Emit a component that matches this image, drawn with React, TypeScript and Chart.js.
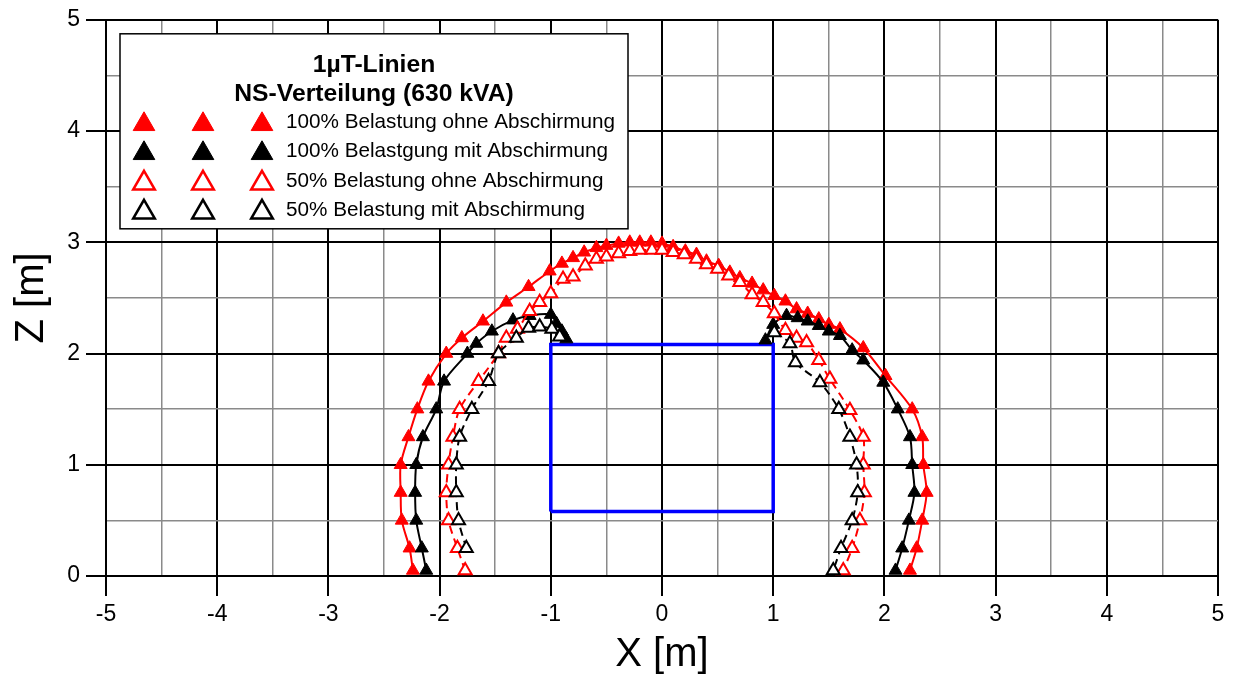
import React, { useEffect, useRef } from "react";
import { Chart, registerables } from "chart.js";

Chart.register(...registerables);

type P = [number, number];

// ---------- data ----------
const xRange: P = [-5, 5];
const zRange: P = [0, 5];
const xTitle = "X [m]";
const zTitle = "Z [m]";

const legendTitle = ["1µT-Linien", "NS-Verteilung (630 kVA)"];
const seriesLabels = [
  "100% Belastung ohne Abschirmung",
  "100% Belastgung mit Abschirmung",
  "50% Belastung ohne Abschirmung",
  "50% Belastung mit Abschirmung",
];

// 100% Belastung ohne Abschirmung (red, filled)
const ohne100: P[] = [
  [-2.24, 0.05], [-2.27, 0.25], [-2.34, 0.5], [-2.35, 0.75], [-2.35, 1.0], [-2.28, 1.25],
  [-2.2, 1.5], [-2.1, 1.75], [-1.94, 2.0], [-1.8, 2.14], [-1.61, 2.29], [-1.4, 2.46],
  [-1.2, 2.6], [-1.01, 2.74], [-0.9, 2.81], [-0.8, 2.86], [-0.7, 2.91], [-0.59, 2.95],
  [-0.5, 2.97], [-0.39, 2.99], [-0.29, 3.0], [-0.2, 3.0], [-0.1, 3.0], [0.0, 2.99],
  [0.1, 2.96], [0.21, 2.92], [0.31, 2.89], [0.4, 2.83], [0.51, 2.79], [0.61, 2.73],
  [0.7, 2.68], [0.81, 2.63], [0.91, 2.57], [1.01, 2.52], [1.11, 2.47], [1.21, 2.4],
  [1.31, 2.36], [1.41, 2.31], [1.5, 2.26], [1.6, 2.22], [1.81, 2.05], [2.01, 1.8],
  [2.25, 1.5], [2.34, 1.25], [2.35, 1.0], [2.38, 0.75], [2.34, 0.5], [2.29, 0.25], [2.23, 0.05],
];

// 100% Belastung mit Abschirmung (black, filled) – left and right branch
const mit100Left: P[] = [
  [-2.12, 0.05], [-2.16, 0.25], [-2.21, 0.5], [-2.22, 0.75], [-2.21, 1.0], [-2.15, 1.25],
  [-2.03, 1.5], [-1.96, 1.75], [-1.75, 2.0], [-1.67, 2.09], [-1.53, 2.2], [-1.34, 2.3],
  [-1.19, 2.34], [-1.0, 2.35], [-0.95, 2.27], [-0.9, 2.2], [-0.86, 2.13],
];
const mit100Right: P[] = [
  [0.93, 2.12], [1.0, 2.26], [1.12, 2.34], [1.22, 2.32], [1.31, 2.29], [1.41, 2.25],
  [1.5, 2.2], [1.6, 2.16], [1.71, 2.03], [1.81, 1.94], [1.99, 1.74], [2.12, 1.5],
  [2.23, 1.25], [2.25, 1.0], [2.27, 0.75], [2.22, 0.5], [2.16, 0.25], [2.1, 0.05],
];

// 50% Belastung ohne Abschirmung (red, open)
const ohne50: P[] = [
  [-1.77, 0.05], [-1.84, 0.25], [-1.92, 0.5], [-1.94, 0.75], [-1.92, 1.0], [-1.88, 1.25],
  [-1.82, 1.5], [-1.65, 1.75], [-1.47, 2.0], [-1.4, 2.14], [-1.3, 2.22], [-1.19, 2.38],
  [-1.1, 2.46], [-1.0, 2.54], [-0.89, 2.67], [-0.8, 2.69], [-0.69, 2.79], [-0.59, 2.85],
  [-0.5, 2.87], [-0.39, 2.9], [-0.29, 2.92], [-0.2, 2.93], [-0.09, 2.93], [0.0, 2.93],
  [0.1, 2.91], [0.2, 2.89], [0.31, 2.85], [0.4, 2.8], [0.5, 2.76], [0.6, 2.7],
  [0.7, 2.64], [0.81, 2.53], [0.91, 2.46], [1.01, 2.36], [1.11, 2.21], [1.21, 2.14],
  [1.3, 2.1], [1.41, 1.94], [1.51, 1.77], [1.69, 1.49], [1.81, 1.25], [1.81, 1.0],
  [1.82, 0.75], [1.78, 0.5], [1.71, 0.25], [1.63, 0.05],
];

// 50% Belastung mit Abschirmung (black, open) – left and right branch
const mit50Left: P[] = [
  [-1.76, 0.25], [-1.83, 0.5], [-1.85, 0.75], [-1.85, 1.0], [-1.82, 1.25], [-1.71, 1.5],
  [-1.56, 1.75], [-1.47, 2.0], [-1.31, 2.14], [-1.2, 2.23], [-1.1, 2.24], [-0.99, 2.22], [-0.92, 2.15],
];
const mit50Right: P[] = [
  [1.01, 2.19], [1.15, 2.09], [1.2, 1.92], [1.42, 1.74], [1.59, 1.5], [1.69, 1.25],
  [1.75, 1.0], [1.76, 0.75], [1.71, 0.5], [1.61, 0.25], [1.54, 0.05],
];

// Station outline (blue rectangle)
const stationX = [-1, 1, 1, -1, -1];
const stationZ = [0.58, 0.58, 2.08, 2.08, 0.58];

// ---------- styling ----------
const FONT = '"Liberation Sans", Arial, Helvetica, sans-serif';
const RED = "#ff0000";
const BLACK = "#000000";
const BLUE = "#0000ff";

const toXY = (pts: P[]) => pts.map(([x, y]) => ({ x, y }));
const isMajor = (v: number) => Math.abs(v - Math.round(v)) < 1e-6;

type SeriesStyle = { color: string; filled: boolean; dashed: boolean };
const styles: SeriesStyle[] = [
  { color: RED, filled: true, dashed: false },
  { color: BLACK, filled: true, dashed: false },
  { color: RED, filled: false, dashed: true },
  { color: BLACK, filled: false, dashed: true },
];

function curve(pts: P[], s: SeriesStyle, label: string) {
  return {
    label,
    data: toXY(pts),
    showLine: true,
    tension: 0.3,
    borderColor: s.color,
    borderWidth: 2,
    borderDash: s.dashed ? [8, 5] : [],
    pointStyle: "triangle",
    pointRadius: 7.5,
    pointBorderWidth: s.filled ? 1 : 2,
    pointBorderColor: s.color,
    pointBackgroundColor: s.filled ? s.color : "#ffffff",
  };
}

function drawTriangle(ctx: CanvasRenderingContext2D, cx: number, cy: number, r: number, s: SeriesStyle) {
  const sx = r * Math.sin((2 * Math.PI) / 3);
  ctx.beginPath();
  ctx.moveTo(cx, cy - r);
  ctx.lineTo(cx + sx, cy + r / 2);
  ctx.lineTo(cx - sx, cy + r / 2);
  ctx.closePath();
  ctx.lineWidth = s.filled ? 1 : 2.5;
  ctx.strokeStyle = s.color;
  ctx.fillStyle = s.filled ? s.color : "#ffffff";
  ctx.fill();
  ctx.stroke();
}

const legendPlugin = {
  id: "gridLegend",
  afterDraw(chart: any) {
    const ctx: CanvasRenderingContext2D = chart.ctx;
    const { left, top } = chart.chartArea;
    const bx = left + 14;
    const by = top + 14;
    const bw = 508;
    const bh = 195;
    ctx.save();
    ctx.fillStyle = "#ffffff";
    ctx.fillRect(bx, by, bw, bh);
    ctx.lineWidth = 1.5;
    ctx.strokeStyle = "#000";
    ctx.strokeRect(bx, by, bw, bh);

    ctx.fillStyle = "#000";
    ctx.textAlign = "center";
    ctx.textBaseline = "middle";
    ctx.font = `bold 24.7px ${FONT}`;
    ctx.fillText(legendTitle[0], bx + bw / 2, by + 31);
    ctx.fillText(legendTitle[1], bx + bw / 2, by + 60);

    ctx.font = `20.7px ${FONT}`;
    ctx.textAlign = "left";
    const rowY = [88, 117, 147, 176];
    const triX = [24, 83, 142];
    seriesLabels.forEach((lab, i) => {
      const cy = by + rowY[i];
      triX.forEach((tx) => drawTriangle(ctx, bx + tx, cy + 2.5, 12.5, styles[i]));
      ctx.fillStyle = "#000";
      ctx.fillText(lab, bx + 166, cy);
    });
    ctx.restore();
  },
};

const gridColor = (c: any) => (isMajor(c.tick.value) ? "#000000" : "#8a8a8a");
const gridWidth = (c: any) => (isMajor(c.tick.value) ? 2 : 1.5);
const tickColor = (c: any) => (isMajor(c.tick.value) ? "#000000" : "rgba(0,0,0,0)");

export default function App() {
  const ref = useRef<HTMLCanvasElement>(null);

  useEffect(() => {
    const datasets: any[] = [
      curve(mit50Left, styles[3], seriesLabels[3]),
      curve(mit50Right, styles[3], seriesLabels[3]),
      curve(ohne50, styles[2], seriesLabels[2]),
      curve(mit100Left, styles[1], seriesLabels[1]),
      curve(mit100Right, styles[1], seriesLabels[1]),
      curve(ohne100, styles[0], seriesLabels[0]),
      {
        label: "Station",
        data: stationX.map((x, i) => ({ x, y: stationZ[i] })),
        showLine: true,
        tension: 0,
        borderColor: BLUE,
        borderWidth: 3.5,
        pointRadius: 0,
      },
    ];

    const chart = new Chart(ref.current as HTMLCanvasElement, {
      type: "scatter",
      data: { datasets },
      options: {
        animation: false,
        responsive: true,
        maintainAspectRatio: false,
        layout: { padding: { left: 0, top: 18, right: 16, bottom: 0 } },
        plugins: { legend: { display: false }, tooltip: { enabled: false } },
        scales: {
          x: {
            type: "linear",
            min: xRange[0],
            max: xRange[1],
            afterFit: (s: any) => {
              s.height = 103;
            },
            ticks: {
              stepSize: 0.5,
              autoSkip: false,
              maxRotation: 0,
              minRotation: 0,
              padding: 5,
              color: "#000",
              font: { family: FONT, size: 23 },
              callback: (v: any) => (isMajor(Number(v)) ? String(Math.round(Number(v))) : ""),
            },
            grid: {
              color: gridColor,
              lineWidth: gridWidth,
              drawTicks: true,
              tickLength: 20,
              tickColor,
              tickWidth: 2,
            },
            border: { display: true, color: "#000", width: 2 },
            title: {
              display: true,
              text: xTitle,
              color: "#000",
              font: { family: FONT, size: 40, lineHeight: 1 },
              padding: { top: 0, bottom: 4 },
            },
          },
          y: {
            type: "linear",
            min: zRange[0],
            max: zRange[1],
            afterFit: (s: any) => {
              s.width = 106;
            },
            ticks: {
              stepSize: 0.5,
              autoSkip: false,
              padding: 6,
              color: "#000",
              font: { family: FONT, size: 23 },
              callback: (v: any) => (isMajor(Number(v)) ? String(Math.round(Number(v))) : ""),
            },
            grid: {
              color: gridColor,
              lineWidth: gridWidth,
              drawTicks: true,
              tickLength: 20,
              tickColor,
              tickWidth: 2,
            },
            border: { display: true, color: "#000", width: 2 },
            title: {
              display: true,
              text: zTitle,
              color: "#000",
              font: { family: FONT, size: 40, lineHeight: 1 },
              padding: { top: 12, bottom: 0 },
            },
          },
        },
      },
      plugins: [legendPlugin],
    } as any);

    return () => chart.destroy();
  }, []);

  return (
    <div style={{ position: "fixed", left: 0, top: 0, width: 1234, height: 679, background: "#fff" }}>
      <canvas ref={ref} />
    </div>
  );
}
